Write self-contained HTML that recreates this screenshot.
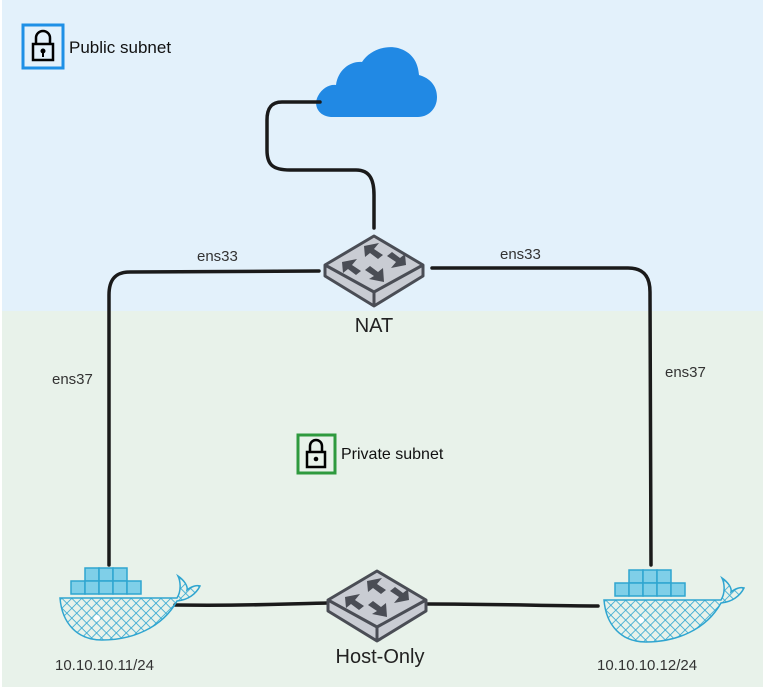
<!DOCTYPE html>
<html><head><meta charset="utf-8"><style>
html,body{margin:0;padding:0;background:#fff}
svg{display:block}
text{font-family:"Liberation Sans",sans-serif}
</style></head><body>
<svg width="763" height="689" viewBox="0 0 763 689" xmlns="http://www.w3.org/2000/svg">
<defs>
<pattern id="hatch" width="7" height="7" patternUnits="userSpaceOnUse" patternTransform="rotate(45)">
<line x1="0" y1="0" x2="0" y2="7" stroke="#2fa5d0" stroke-width="1.6"/>
<line x1="0" y1="0" x2="7" y2="0" stroke="#2fa5d0" stroke-width="1.6"/>
</pattern>
<g id="sw">
<polygon points="0,-32 49,-3 49,8 0,38 -49,8 -49,-3" fill="#c9ccd3" stroke="#4a4d55" stroke-width="3" stroke-linejoin="round"/>
<polyline points="-49,-3 0,24 49,-3" fill="none" stroke="#4a4d55" stroke-width="3" stroke-linejoin="round"/>
<line x1="0" y1="24" x2="0" y2="38" stroke="#4a4d55" stroke-width="3"/>
<g fill="#4a4d55">
<polygon points="-10,-22 5,-25 0,-19 9,-13 4,-9 -4,-15 -9,-11"/>
<polygon points="32,-3 17,0 22,-6 13,-12 18,-16 26,-10 31,-14"/>
<polygon points="-32,-6 -17,-9 -22,-3 -13,3 -18,7 -26,1 -31,5"/>
<polygon points="10,14 -5,11 0,8 -9,2 -4,-2 4,4 9,0"/>
</g>
</g>
<g id="whale">
<g fill="#7fcfe8" stroke="#2fa5d0" stroke-width="1.5">
<rect x="33" y="0" width="14" height="13"/><rect x="47" y="0" width="14" height="13"/><rect x="61" y="0" width="14" height="13"/>
<rect x="19" y="13" width="14" height="13"/><rect x="33" y="13" width="14" height="13"/><rect x="47" y="13" width="14" height="13"/><rect x="61" y="13" width="14" height="13"/><rect x="75" y="13" width="14" height="13"/>
</g>
<path d="M8,30 L125,30 C130,22 128,12 126,8 C132,12 136,18 135,22 C140,18 145,17 148,18 C144,26 136,32 125,33 C110,60 80,72 50,72 C25,72 10,55 8,30 Z" fill="url(#hatch)" stroke="#2fa5d0" stroke-width="1.5"/>
<circle cx="45" cy="50" r="3" fill="#fff"/>
</g>
</defs>
<rect x="2" y="0" width="761" height="311" fill="#e3f1fb"/>
<rect x="2" y="311" width="761" height="376" fill="#e8f2ea"/>
<rect x="23" y="25" width="40" height="43" fill="#e3f1fb" stroke="#1e90e6" stroke-width="3"/>
<rect x="33" y="44" width="20" height="16" fill="none" stroke="#000" stroke-width="2.5"/>
<path d="M36,44 V38 a7,7 0 0 1 14,0 V44" fill="none" stroke="#000" stroke-width="2.5"/>
<circle cx="43" cy="51" r="2.5" fill="#000"/><line x1="43" y1="52" x2="43" y2="57" stroke="#000" stroke-width="2"/>
<text x="69" y="53" font-size="17" fill="#111">Public subnet</text>
<rect x="298" y="435" width="37" height="38" fill="#e8f2ea" stroke="#2e9a3e" stroke-width="3"/>
<rect x="307" y="452" width="18" height="15" fill="none" stroke="#000" stroke-width="2.5"/>
<path d="M310,452 V446 a6,6 0 0 1 12,0 V452" fill="none" stroke="#000" stroke-width="2.5"/>
<circle cx="316" cy="459" r="2.3" fill="#000"/>
<text x="341" y="459" font-size="16" fill="#111">Private subnet</text>
<path d="M333,117 C318,117 313,105 318,96 C322,88 330,84 336,85 C338,70 350,61 362,62 C370,50 385,45 398,48 C412,52 418,62 419,75 C430,78 437,86 437,97 C437,110 427,117 418,117 Z" fill="#2189e4"/>
<g fill="none" stroke="#1a1a1a" stroke-width="3.5" stroke-linecap="round">
<path d="M320,102 L282,102 C270,102 267,110 267,120 L267,150 C267,164 272,170 290,170 L356,170 C370,170 374,180 374,195 L374,228"/>
<path d="M319,271 L130,272 C115,272 109,280 109,295 L109,565"/>
<path d="M432,268 L628,268 C645,268 650,278 650,292 L651,565"/>
<path d="M175,605 C250,606 280,604 327,603"/>
<path d="M428,604 C500,604 550,606 598,606"/>
</g>
<use href="#sw" x="374" y="268"/>
<use href="#sw" x="377" y="603"/>
<use href="#whale" x="52" y="568"/>
<use href="#whale" x="596" y="570"/>
<g fill="#333" font-size="15">
<text x="197" y="261">ens33</text>
<text x="500" y="259">ens33</text>
<text x="52" y="384">ens37</text>
<text x="665" y="377">ens37</text>
<text x="55" y="670">10.10.10.11/24</text>
<text x="597" y="670">10.10.10.12/24</text>
</g>
<text x="374" y="332" font-size="20" fill="#222" text-anchor="middle">NAT</text>
<text x="380" y="663" font-size="20" fill="#222" text-anchor="middle">Host-Only</text>
</svg>
</body></html>
